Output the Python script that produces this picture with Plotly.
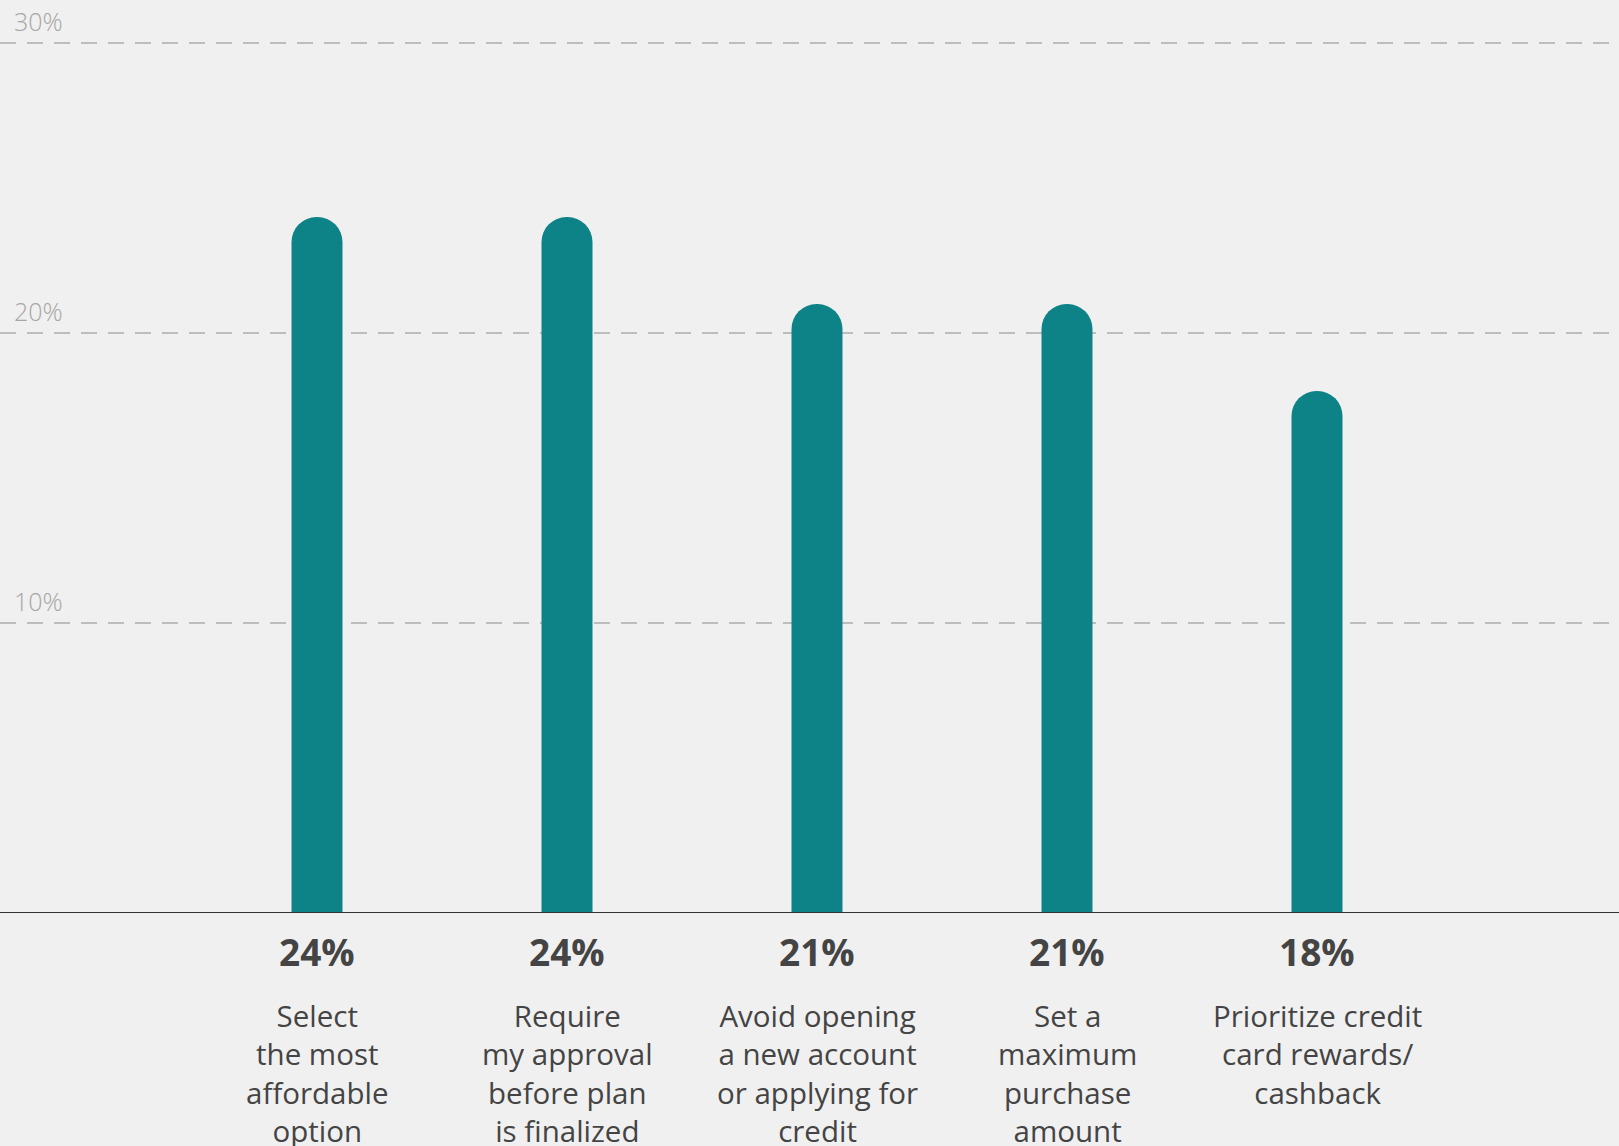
import plotly.graph_objects as go

# Survey results: share of respondents choosing each approach
categories = [
    "Select<br>the most<br>affordable<br>option",
    "Require<br>my approval<br>before plan<br>is finalized",
    "Avoid opening<br>a new account<br>or applying for<br>credit",
    "Set a<br>maximum<br>purchase<br>amount",
    "Prioritize credit<br>card rewards/<br>cashback",
]
values = [24, 24, 21, 21, 18]
tick_values = [10, 20, 30]
tick_labels = ["10%", "20%", "30%"]

BG = "#f0f0f0"
TEAL = "#0d8387"
TEXT = "#444444"
FONT = "Open Sans"

x_pos = list(range(len(values)))

fig = go.Figure()
fig.add_trace(
    go.Bar(
        x=x_pos,
        y=values,
        width=0.204,
        marker=dict(color=TEAL, line=dict(width=0), cornerradius="50%"),
        hoverinfo="skip",
    )
)

annotations = []
# gridline labels sitting just above each dashed line
for v, lab in zip(tick_values, tick_labels):
    annotations.append(
        dict(
            x=0, xref="paper", xanchor="left", xshift=12,
            y=v, yref="y", yanchor="bottom", yshift=3,
            text=lab, showarrow=False,
            font=dict(family=FONT, size=25, color="#a6a6a6", weight=300),
        )
    )
# value and category labels below the baseline
for xi, v, cat in zip(x_pos, values, categories):
    annotations.append(
        dict(
            x=xi, xref="x", xanchor="center",
            y=0, yref="y", yanchor="middle", yshift=-38,
            text=f"<b>{v}%</b>", showarrow=False,
            font=dict(family=FONT, size=37, color=TEXT),
        )
    )
    annotations.append(
        dict(
            x=xi, xref="x", xanchor="center",
            y=0, yref="y", yanchor="top", yshift=-80,
            text=cat, showarrow=False, align="center",
            font=dict(family=FONT, size=29.5, color=TEXT),
        )
    )

fig.update_layout(
    width=1619,
    height=1146,
    margin=dict(l=0, r=0, t=28, b=233),
    paper_bgcolor=BG,
    plot_bgcolor=BG,
    showlegend=False,
    annotations=annotations,
    shapes=[
        dict(
            type="line", xref="paper", yref="y",
            x0=0, x1=1, y0=0, y1=0,
            line=dict(color="#333333", width=2),
        )
    ],
    xaxis=dict(
        range=[-1.268, 5.208],
        showgrid=False, zeroline=False, showticklabels=False, fixedrange=True,
    ),
    yaxis=dict(
        range=[0, 30.517],
        tickvals=tick_values,
        showticklabels=False,
        showgrid=True,
        gridcolor="#bdbdbd",
        gridwidth=1.5,
        griddash="16px,11px",
        zeroline=False,
        fixedrange=True,
    ),
)

fig.write_html("out.html")
